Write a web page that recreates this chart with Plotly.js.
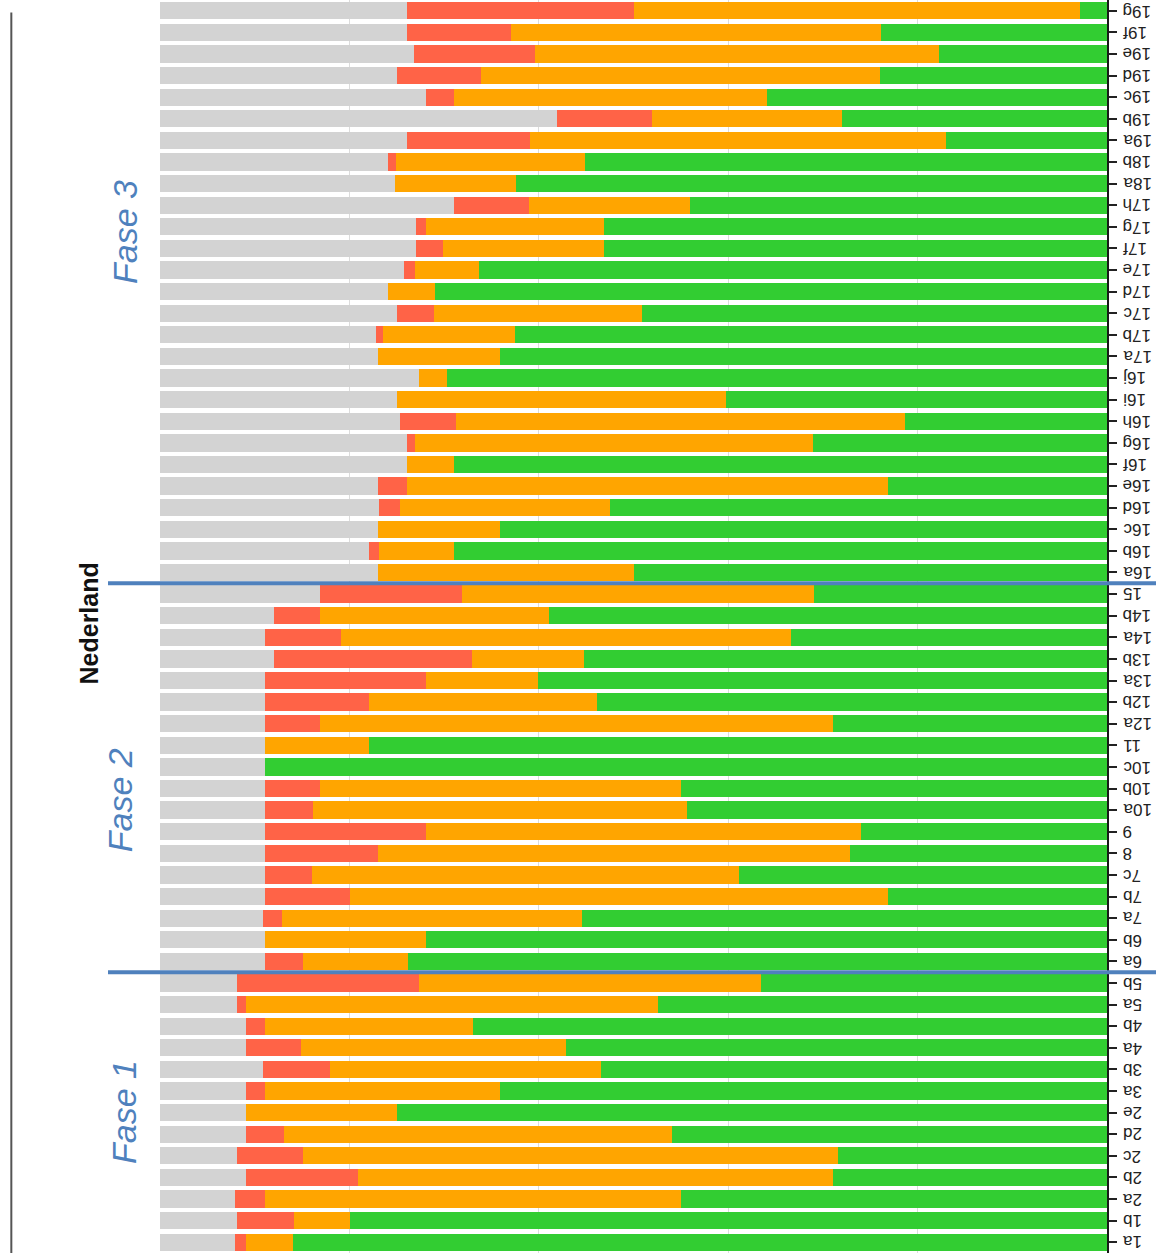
<!DOCTYPE html>
<html>
<head>
<meta charset="utf-8">
<script src="https://cdn.plot.ly/plotly-3.0.1.min.js"></script>
<style>html,body{margin:0;padding:0;background:#fff;}#chart{width:1156px;height:1256px;}</style>
</head>
<body>
<div id="chart"></div>
<script>
// Categories from bottom to top
var categories = ["1a","1b","2a","2b","2c","2d","2e","3a","3b","4a","4b","5a","5b",
  "6a","6b","7a","7b","7c","8","9","10a","10b","10c","11","12a","12b","13a","13b","14a","14b","15",
  "16a","16b","16c","16d","16e","16f","16g","16h","16i","16j","17a","17b","17c","17d","17e","17f","17g","17h",
  "18a","18b","19a","19b","19c","19d","19e","19f","19g"];

var grayVals = [7.9,8.1,7.9,9.1,8.1,9.1,9.1,9.1,10.9,9.1,9.1,8.1,8.1,
  11.1,11.1,10.9,11.1,11.1,11.1,11.1,11.1,11.1,11.1,11.1,11.1,11.1,11.1,12.0,11.1,12.0,16.9,
  23.0,22.1,23.0,23.1,23.0,26.1,26.1,25.3,25.0,27.4,23.0,22.8,25.0,24.1,25.8,27.0,27.0,31.0,
  24.8,24.1,26.1,41.9,28.1,25.0,26.8,26.1,26.1];

var redVals = [1.2,6.0,3.2,11.8,7.0,4.0,0,2.0,7.0,5.8,2.0,1.0,19.2,
  4.0,0,2.0,9.0,4.9,11.9,17.0,5.1,5.8,0,0,5.8,11.0,17.0,20.9,8.0,4.9,15.0,
  0,1.0,0,2.2,3.1,0,0.8,6.0,0,0,0,0.8,3.9,0,1.1,2.9,1.1,8.0,
  0,0.8,13.0,10.1,2.9,8.9,12.8,11.0,24.0];

var orangeVals = [4.9,6.0,43.9,50.2,56.5,41.0,15.9,24.8,28.7,28.0,21.9,43.5,36.2,
  11.1,17.0,31.7,56.8,45.1,49.9,45.9,39.4,38.1,0,11.0,54.2,24.0,11.8,11.9,47.5,24.2,37.2,
  27.0,7.9,12.9,22.2,50.8,4.9,42.1,47.4,34.8,2.9,12.9,13.9,22.0,4.9,6.8,17.0,18.8,17.0,
  12.8,20.0,43.9,20.0,33.1,42.1,42.7,39.0,47.1];

var greenVals = [86.0,79.9,45.0,28.9,28.4,45.9,75.0,64.1,53.4,57.1,67.0,47.4,36.5,
  73.8,71.9,55.4,23.1,38.9,27.1,26.0,44.4,45.0,88.9,77.9,28.9,53.9,60.1,55.2,33.4,58.9,30.9,
  50.0,69.0,64.1,52.5,23.1,69.0,31.0,21.3,40.2,69.7,64.1,62.5,49.1,71.0,66.3,53.1,53.1,44.0,
  62.4,55.1,17.0,28.0,35.9,24.0,17.7,23.9,2.8];

var phaseLabels = ["Fase 1","Fase 2","Fase 3"];
var countryLabel = "Nederland";

function mk(vals, color) {
  return {type:"bar", orientation:"h", y:categories, x:vals,
    marker:{color:color, line:{width:0}}, hoverinfo:"x+y", showlegend:false};
}

var data = [
  mk(grayVals, "#d3d3d3"),
  mk(redVals, "#ff6347"),
  mk(orangeVals, "#ffa500"),
  mk(greenVals, "#32cd32")
];

var blue = "#4f81bd";
var fontFam = "Liberation Sans, Arial, sans-serif";

// upside-down category labels, right of the axis (positioned by category index)
var tickAnns = categories.map(function(c, i){
  return {text:c, xref:"paper", yref:"y", x:1.0148, y:i, xanchor:"left", yanchor:"middle",
    textangle:180, showarrow:false, font:{family:fontFam, size:17, color:"#222"}};
});

var layout = {
  width:1156, height:1256,
  margin:{l:160, r:49, t:0, b:3, pad:0},
  barmode:"stack",
  bargap:0.2,
  plot_bgcolor:"#ffffff",
  paper_bgcolor:"#ffffff",
  showlegend:false,
  xaxis:{range:[0,100], dtick:20, showticklabels:false, showgrid:true, gridcolor:"#dcdcdc",
    gridwidth:1, zeroline:false, showline:false, ticks:"", fixedrange:true},
  yaxis:{type:"category", categoryorder:"array", categoryarray:categories,
    range:[-0.5, 57.5], side:"right", showgrid:false, zeroline:false,
    showline:true, linecolor:"#1a1a1a", linewidth:2, mirror:false,
    ticks:"outside", ticklen:8, tickwidth:2, tickcolor:"#222",
    showticklabels:false},
  shapes:[
    {type:"line", xref:"paper", yref:"y", x0:-0.0549, x1:1.06, y0:30.5, y1:30.5,
      line:{color:blue, width:4}},
    {type:"line", xref:"paper", yref:"y", x0:-0.0549, x1:1.06, y0:12.5, y1:12.5,
      line:{color:blue, width:4}},
    {type:"line", xref:"paper", yref:"paper", x0:-0.157, x1:-0.157, y0:0, y1:0.99,
      line:{color:"#555", width:2}}
  ],
  annotations:[
    {text:phaseLabels[2], xref:"paper", yref:"paper", x:-0.037, y:1-232/1253, textangle:-90,
      xanchor:"center", yanchor:"middle",
      showarrow:false, font:{family:fontFam, size:34, color:blue, style:"italic"}},
    {text:phaseLabels[1], xref:"paper", yref:"paper", x:-0.042, y:1-800/1253, textangle:-90,
      xanchor:"center", yanchor:"middle",
      showarrow:false, font:{family:fontFam, size:34, color:blue, style:"italic"}},
    {text:phaseLabels[0], xref:"paper", yref:"paper", x:-0.038, y:1-1112/1253, textangle:-90,
      xanchor:"center", yanchor:"middle",
      showarrow:false, font:{family:fontFam, size:34, color:blue, style:"italic"}},
    {text:"<b>"+countryLabel+"</b>", xref:"paper", yref:"paper", x:-0.0755, y:1-624/1253, textangle:-90,
      xanchor:"center", yanchor:"middle",
      showarrow:false, font:{family:fontFam, size:25, color:"#111"}}
  ].concat(tickAnns)
};

Plotly.newPlot("chart", data, layout, {displayModeBar:false, staticPlot:true});
</script>
</body>
</html>
